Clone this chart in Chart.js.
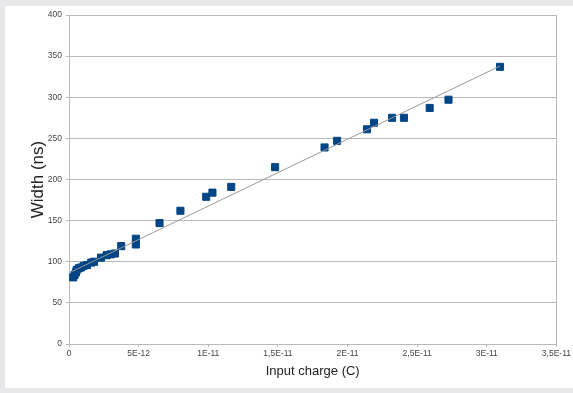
<!DOCTYPE html>
<html>
<head>
    <title>Width vs input charge</title>
    <script src="https://cdn.jsdelivr.net/npm/chart.js"></script>
    <style>
        body {
            margin: 0;
            background: #e8e8ea;
            width: 573px;
            height: 393px;
            overflow: hidden;
        }
        #panel {
            position: absolute;
            left: 5px;
            top: 6px;
            width: 568px;
            height: 382px;
            background: #ffffff;
        }
        #chart {
            position: absolute;
            left: 0;
            top: 0;
        }
    </style>
</head>
<body>
    <div id="panel"></div>
    <canvas id="chart" width="573" height="393"></canvas>
    <script>
        // input charge in units of 1E-12 C
        const chargeValues = [0.3, 0.4, 0.5, 0.55, 0.7, 0.85, 1.05, 1.3, 1.6, 1.8, 2.3, 2.7, 3.0, 3.3, 3.75, 4.8, 4.8,
            6.5, 8.0, 9.85, 10.3, 11.65, 14.8, 18.35, 19.25, 21.4, 21.9, 23.2, 24.05, 25.9, 27.25, 30.95];
        // pulse width in ns
        const widthValues = [81, 84, 87, 90, 92, 93, 95, 96, 99, 100, 105, 108, 109, 110, 119, 128, 121,
            147, 162, 179, 184, 191, 215, 239, 247, 261, 269, 275, 275, 287, 297, 337];

        // trend line end points
        const trendCharge = [0.2, 30.95];
        const trendWidth = [88, 338];

        const xTickLabels = ['0', '5E-12', '1E-11', '1,5E-11', '2E-11', '2,5E-11', '3E-11', '3,5E-11'];
        const yTicks = [0, 50, 100, 150, 200, 250, 300, 350, 400];

        const points = chargeValues.map((x, i) => ({ x: x, y: widthValues[i] }));
        const trend = trendCharge.map((x, i) => ({ x: x, y: trendWidth[i] }));

        const lineColor = '#b9b9b9';
        const labelColor = '#444444';

        const frame = {
            id: 'frame',
            afterDraw(chart) {
                const { ctx, chartArea } = chart;
                ctx.save();
                ctx.strokeStyle = lineColor;
                ctx.lineWidth = 1;
                ctx.beginPath();
                ctx.moveTo(Math.round(chartArea.right) + 0.5, chartArea.top);
                ctx.lineTo(Math.round(chartArea.right) + 0.5, chartArea.bottom);
                ctx.stroke();
                ctx.restore();
            }
        };

        new Chart(document.getElementById('chart'), {
            type: 'scatter',
            data: {
                datasets: [
                    {
                        label: 'Trend',
                        data: trend,
                        showLine: true,
                        borderColor: '#9a9a9a',
                        borderWidth: 1,
                        pointRadius: 0,
                        fill: false
                    },
                    {
                        label: 'Width',
                        data: points,
                        pointStyle: 'rect',
                        pointRadius: 5,
                        pointBackgroundColor: '#004586',
                        pointBorderColor: '#004586',
                        pointBorderWidth: 1
                    }
                ]
            },
            options: {
                responsive: false,
                animation: false,
                layout: {
                    padding: { left: 0, top: 15, right: 14, bottom: 0 }
                },
                plugins: {
                    legend: { display: false },
                    tooltip: { enabled: false }
                },
                scales: {
                    x: {
                        type: 'linear',
                        min: 0,
                        max: 35,
                        afterFit: scale => { scale.height = 49; },
                        ticks: {
                            stepSize: 5,
                            color: labelColor,
                            padding: 2,
                            font: { family: 'Liberation Sans', size: 8.5 },
                            callback: value => xTickLabels[Math.round(value / 5)]
                        },
                        grid: {
                            drawOnChartArea: false,
                            tickLength: 3,
                            tickColor: lineColor
                        },
                        border: { color: lineColor },
                        title: {
                            display: true,
                            text: 'Input charge (C)',
                            color: '#222222',
                            font: { family: 'Liberation Sans', size: 13 },
                            padding: { top: 0, bottom: 14 }
                        }
                    },
                    y: {
                        min: 0,
                        max: 400,
                        afterFit: scale => { scale.width = 69; },
                        afterBuildTicks: scale => { scale.ticks = yTicks.map(v => ({ value: v })); },
                        ticks: {
                            color: labelColor,
                            padding: 4,
                            font: { family: 'Liberation Sans', size: 8.5 }
                        },
                        grid: {
                            color: lineColor,
                            tickLength: 3
                        },
                        border: { color: lineColor },
                        title: {
                            display: true,
                            text: 'Width (ns)',
                            color: '#222222',
                            font: { family: 'Liberation Sans', size: 17 },
                            padding: { top: 28, bottom: 0 }
                        }
                    }
                }
            },
            plugins: [frame]
        });
    </script>
</body>
</html>
